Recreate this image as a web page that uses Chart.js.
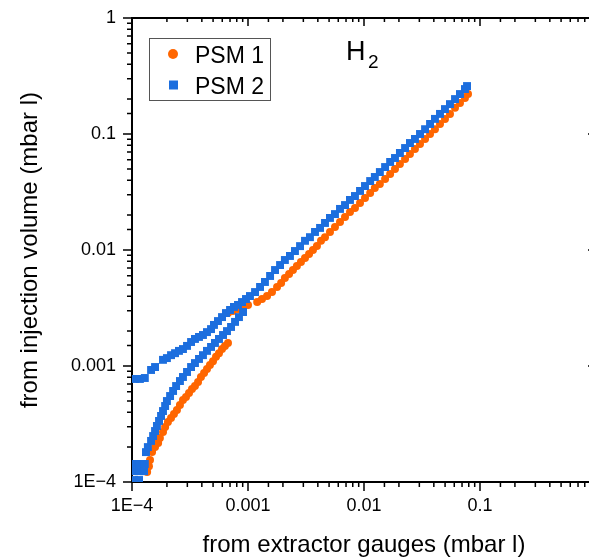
<!DOCTYPE html>
<html>
<head>
<meta charset="utf-8">
<title>H2 PSM</title>
<script src="https://cdn.jsdelivr.net/npm/chart.js@4.4.1/dist/chart.umd.min.js"></script>
<style>
  html, body { margin: 0; padding: 0; background: #fff; overflow: hidden; }
  #wrap { position: relative; width: 600px; height: 558px; }
</style>
</head>
<body>
<div id="wrap"><canvas id="chart"></canvas></div>
<script>
'use strict';

/**
 * data (mbar l): x = from extractor gauges, y = from injection volume
 */

const tickValues = [1e-4, 1e-3, 1e-2, 1e-1, 1];
const xTickLabels = ["1E\u22124", "0.001", "0.01", "0.1", ""];
const yTickLabels = ["1E\u22124", "0.001", "0.01", "0.1", "1"];

const psm1X = [
  // low branch
  1.35e-4, 1.40e-4, 1.43e-4, 1.49e-4, 1.58e-4, 1.68e-4, 1.74e-4, 1.85e-4, 1.93e-4, 2.04e-4,
  2.17e-4, 2.30e-4, 2.44e-4, 2.59e-4, 2.75e-4, 2.92e-4, 3.10e-4, 3.29e-4, 3.49e-4, 3.71e-4,
  3.93e-4, 4.18e-4, 4.43e-4, 4.70e-4, 4.99e-4, 5.30e-4, 5.62e-4, 5.97e-4, 6.33e-4, 6.72e-4,
  // main line
  6.72e-4, 7.42e-4, 8.20e-4, 9.06e-4, 1.00e-3, 1.20e-3, 1.32e-3, 1.46e-3, 1.61e-3, 1.78e-3,
  1.93e-3, 2.08e-3, 2.26e-3, 2.44e-3, 2.64e-3, 2.86e-3, 3.10e-3, 3.36e-3, 3.63e-3, 3.93e-3,
  4.26e-3, 4.61e-3, 5.09e-3, 5.62e-3, 6.21e-3, 6.86e-3, 7.57e-3, 8.36e-3, 9.24e-3, 1.02e-2,
  1.13e-2, 1.24e-2, 1.37e-2, 1.52e-2, 1.68e-2, 1.85e-2, 2.04e-2, 2.26e-2, 2.49e-2, 2.75e-2,
  3.04e-2, 3.36e-2, 3.71e-2, 4.09e-2, 4.52e-2, 4.99e-2, 5.51e-2, 6.09e-2, 6.72e-2, 7.42e-2,
  7.88e-2
];
const psm1Y = [
  1.22e-4, 1.37e-4, 1.55e-4, 1.81e-4, 2.00e-4, 2.17e-4, 2.40e-4, 2.70e-4, 2.98e-4, 3.29e-4,
  3.56e-4, 3.86e-4, 4.18e-4, 4.61e-4, 5.09e-4, 5.40e-4, 5.85e-4, 6.33e-4, 6.72e-4, 7.28e-4,
  8.04e-4, 8.70e-4, 9.42e-4, 1.02e-3, 1.10e-3, 1.20e-3, 1.29e-3, 1.40e-3, 1.49e-3, 1.58e-3,
  2.86e-3, 2.98e-3, 3.10e-3, 3.23e-3, 3.36e-3, 3.56e-3, 3.78e-3, 4.01e-3, 4.34e-3, 4.80e-3,
  5.19e-3, 5.74e-3, 6.21e-3, 6.72e-3, 7.28e-3, 7.88e-3, 8.53e-3, 9.24e-3, 1.00e-2, 1.08e-2,
  1.20e-2, 1.29e-2, 1.43e-2, 1.58e-2, 1.74e-2, 1.93e-2, 2.13e-2, 2.30e-2, 2.54e-2, 2.81e-2,
  3.10e-2, 3.42e-2, 3.71e-2, 4.09e-2, 4.52e-2, 4.99e-2, 5.51e-2, 6.09e-2, 6.72e-2, 7.42e-2,
  8.20e-2, 9.06e-2, 0.100, 0.110, 0.122, 0.135, 0.149, 0.168, 0.185, 0.204,
  0.221
];

const psm2X = [
  // cluster near the origin
  1.04e-4, 1.15e-4, 1.04e-4, 1.15e-4, 1.27e-4, 1.04e-4, 1.15e-4, 1.29e-4,
  // lower branch
  1.32e-4, 1.37e-4, 1.46e-4, 1.52e-4, 1.58e-4, 1.64e-4, 1.71e-4, 1.78e-4, 1.85e-4, 1.93e-4,
  2.00e-4, 2.13e-4, 2.26e-4, 2.40e-4, 2.59e-4, 2.75e-4, 2.98e-4, 3.23e-4, 3.49e-4, 3.78e-4,
  4.09e-4, 4.43e-4, 4.80e-4, 5.19e-4, 5.62e-4, 6.09e-4, 6.59e-4, 7.14e-4, 7.73e-4, 8.36e-4,
  9.06e-4,
  // upper branch
  1.06e-4, 1.17e-4, 1.29e-4, 1.46e-4, 1.58e-4, 1.85e-4, 2.00e-4, 2.17e-4, 2.35e-4, 2.54e-4,
  2.75e-4, 2.98e-4, 3.23e-4, 3.49e-4, 3.78e-4, 4.09e-4, 4.43e-4, 4.80e-4, 5.09e-4, 5.51e-4,
  5.97e-4, 6.46e-4, 7.00e-4, 7.57e-4, 8.20e-4,
  // main line
  8.88e-4, 9.61e-4, 1.04e-3, 1.15e-3, 1.27e-3, 1.40e-3, 1.55e-3, 1.71e-3, 1.89e-3, 2.08e-3,
  2.30e-3, 2.54e-3, 2.81e-3, 3.10e-3, 3.42e-3, 3.78e-3, 4.18e-3, 4.61e-3, 5.09e-3, 5.62e-3,
  6.21e-3, 6.86e-3, 7.57e-3, 8.36e-3, 9.24e-3, 1.02e-2, 1.13e-2, 1.24e-2, 1.37e-2, 1.52e-2,
  1.68e-2, 1.85e-2, 2.04e-2, 2.26e-2, 2.49e-2, 2.75e-2, 3.04e-2, 3.36e-2, 3.71e-2, 4.09e-2,
  4.52e-2, 4.99e-2, 5.51e-2, 6.09e-2, 6.72e-2, 7.42e-2, 7.73e-2
];
const psm2Y = [
  1.04e-4, 1.04e-4, 1.24e-4, 1.24e-4, 1.24e-4, 1.43e-4, 1.43e-4, 1.43e-4,
  1.81e-4, 2.00e-4, 2.26e-4, 2.49e-4, 2.75e-4, 3.04e-4, 3.36e-4, 3.71e-4, 4.09e-4, 4.52e-4,
  4.99e-4, 5.51e-4, 6.09e-4, 6.72e-4, 7.42e-4, 8.04e-4, 8.88e-4, 9.80e-4, 1.06e-3, 1.15e-3,
  1.24e-3, 1.35e-3, 1.46e-3, 1.58e-3, 1.71e-3, 1.85e-3, 2.00e-3, 2.17e-3, 2.40e-3, 2.64e-3,
  2.92e-3,
  7.73e-4, 7.73e-4, 7.88e-4, 9.24e-4, 9.80e-4, 1.13e-3, 1.17e-3, 1.24e-3, 1.29e-3, 1.35e-3,
  1.40e-3, 1.49e-3, 1.61e-3, 1.71e-3, 1.78e-3, 1.85e-3, 1.96e-3, 2.08e-3, 2.26e-3, 2.44e-3,
  2.64e-3, 2.86e-3, 3.04e-3, 3.23e-3, 3.36e-3,
  3.56e-3, 3.78e-3, 4.01e-3, 4.34e-3, 4.80e-3, 5.30e-3, 5.97e-3, 6.72e-3, 7.42e-3, 8.20e-3,
  8.88e-3, 9.80e-3, 1.08e-2, 1.20e-2, 1.29e-2, 1.43e-2, 1.55e-2, 1.71e-2, 1.89e-2, 2.04e-2,
  2.26e-2, 2.44e-2, 2.70e-2, 2.92e-2, 3.23e-2, 3.56e-2, 3.93e-2, 4.26e-2, 4.70e-2, 5.19e-2,
  5.74e-2, 6.21e-2, 6.86e-2, 7.57e-2, 8.36e-2, 9.06e-2, 0.100, 0.110, 0.122, 0.135,
  0.149, 0.164, 0.181, 0.200, 0.221, 0.244, 0.259
];

const orange = "rgb(255, 102, 0)";
const blue = "rgb(28, 110, 222)";
const fontFamily = "'Liberation Sans', Arial, sans-serif";

Chart.defaults.font.family = fontFamily;
Chart.defaults.color = "#000";

const toPoints = function (xs, ys) {
  return xs.map(function (x, i) { return { x: x, y: ys[i] }; });
}

const isDecade = function (v) {
  const l = Math.log10(v);
  return Math.abs(l - Math.round(l)) < 1e-9;
}

const labelFor = function (labels) {
  return function (value) {
    const i = tickValues.findIndex(function (v) {
      return Math.abs(Math.log10(v) - Math.log10(value)) < 1e-6;
    });
    return i < 0 ? "" : labels[i];
  };
}

// fixed box sizes, no extra room for the tick labels
const fixSize = function (w, h) {
  return function (scale) {
    if (w !== null) scale.width = w;
    if (h !== null) scale.height = h;
    scale.paddingLeft = 0;
    scale.paddingRight = 0;
    scale.paddingTop = 0;
    scale.paddingBottom = 0;
  };
}


/**
 * tick marks, legend box and H2 label
 */

const decorPlugin = {
  id: "decor",
  afterDraw: function (chart) {
    const ctx = chart.ctx;
    const area = chart.chartArea;
    const xs = chart.scales.x;
    const ys = chart.scales.y;

    ctx.save();
    ctx.strokeStyle = "#000";
    ctx.lineWidth = 1.5;
    ctx.beginPath();
    xs.ticks.forEach(function (t) {
      const px = xs.getPixelForValue(t.value);
      const major = isDecade(t.value);
      ctx.moveTo(px, area.bottom);
      ctx.lineTo(px, area.bottom + (major ? 9 : 5));
      ctx.moveTo(px, area.top);
      ctx.lineTo(px, area.top + (major ? 8 : 4));
    });
    ys.ticks.forEach(function (t) {
      const py = ys.getPixelForValue(t.value);
      const major = isDecade(t.value);
      ctx.moveTo(area.left - (major ? 9 : 5), py);
      ctx.lineTo(area.left, py);
      ctx.moveTo(area.right - (major ? 8 : 4), py);
      ctx.lineTo(area.right, py);
    });
    ctx.stroke();

    // legend
    const lx = area.left + 17;
    const ly = area.top + 20;
    ctx.lineWidth = 1;
    ctx.strokeStyle = "#555";
    ctx.strokeRect(lx + 0.5, ly + 0.5, 121, 62);
    ctx.font = "23px " + fontFamily;
    ctx.textBaseline = "alphabetic";
    ctx.textAlign = "left";
    [0, 1].forEach(function (i) {
      const ds = chart.data.datasets[i];
      const cy = ly + 16 + i * 31;
      ctx.fillStyle = ds.backgroundColor;
      if (ds.pointStyle === "rect") {
        ctx.fillRect(lx + 20, cy - 4.5, 9, 9);
      } else {
        ctx.beginPath();
        ctx.arc(lx + 24, cy, 5, 0, 2 * Math.PI);
        ctx.fill();
      }
      ctx.fillStyle = "#000";
      ctx.fillText(ds.label, lx + 46, cy + 9);
    });

    // gas label
    ctx.font = "27px " + fontFamily;
    ctx.fillText("H", area.left + 214, area.top + 42);
    ctx.font = "19px " + fontFamily;
    ctx.fillText("2", area.left + 236, area.top + 50);
    ctx.restore();
  }
};


/**
 * chart
 */

const ctx = document.getElementById("chart").getContext("2d");
const chart = new Chart(ctx, {
  type: "scatter",
  data: {
    datasets: [{
      label: "PSM 1",
      data: toPoints(psm1X, psm1Y),
      backgroundColor: orange,
      borderColor: orange,
      pointStyle: "circle",
      pointRadius: 4,
      pointBorderWidth: 0,
      order: 1
    }, {
      label: "PSM 2",
      data: toPoints(psm2X, psm2Y),
      backgroundColor: blue,
      borderColor: blue,
      pointStyle: "rect",
      pointRadius: 5.6,
      pointBorderWidth: 0,
      order: 0
    }]
  },
  options: {
    responsive: true,
    maintainAspectRatio: false,
    animation: false,
    events: [],
    layout: { padding: 0, autoPadding: false },
    scales: {
      x: {
        type: "logarithmic",
        position: "bottom",
        min: 1e-4,
        max: 1,
        border: { display: true, color: "#000", width: 2 },
        grid: { display: true, drawOnChartArea: false, drawTicks: false },
        ticks: {
          autoSkip: false,
          maxRotation: 0,
          padding: 13,
          font: { size: 18 },
          callback: labelFor(xTickLabels)
        },
        title: {
          display: true,
          text: "from extractor gauges (mbar l)",
          font: { size: 24, lineHeight: 1 },
          padding: { top: 0, bottom: 1 }
        },
        afterFit: fixSize(null, 76)
      },
      x2: {
        type: "logarithmic",
        position: "top",
        min: 1e-4,
        max: 1,
        border: { display: true, color: "#000", width: 2 },
        grid: { display: true, drawOnChartArea: false, drawTicks: false },
        ticks: { display: false },
        afterFit: fixSize(null, 18)
      },
      y: {
        type: "logarithmic",
        position: "left",
        min: 1e-4,
        max: 1,
        border: { display: true, color: "#000", width: 2 },
        grid: { display: true, drawOnChartArea: false, drawTicks: false },
        ticks: {
          autoSkip: false,
          padding: 16,
          font: { size: 18 },
          callback: labelFor(yTickLabels)
        },
        title: {
          display: true,
          text: "from injection volume (mbar l)",
          font: { size: 24, lineHeight: 1 },
          padding: { top: 18, bottom: 0 }
        },
        afterFit: fixSize(132, null)
      },
      y2: {
        type: "logarithmic",
        position: "right",
        min: 1e-4,
        max: 1,
        border: { display: true, color: "#000", width: 2 },
        grid: { display: true, drawOnChartArea: false, drawTicks: false },
        ticks: { display: false },
        afterFit: fixSize(4, null)
      }
    },
    plugins: {
      legend: { display: false },
      tooltip: { enabled: false }
    }
  },
  plugins: [decorPlugin]
});
</script>
</body>
</html>
